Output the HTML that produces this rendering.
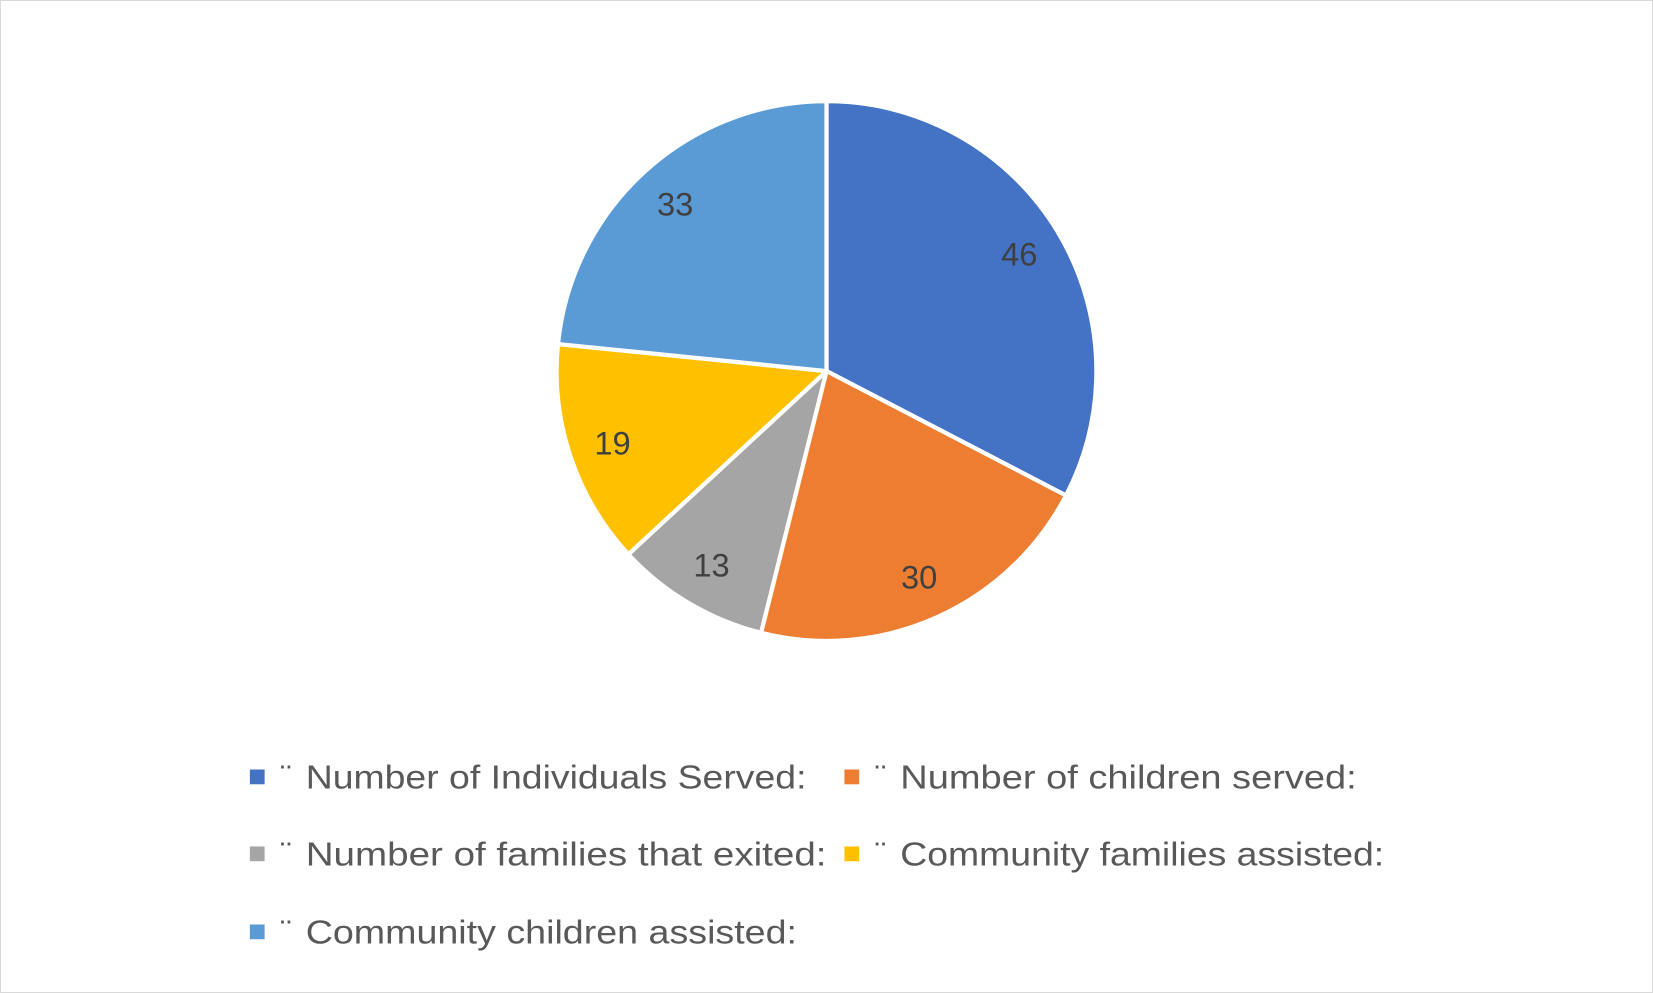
<!DOCTYPE html>
<html><head><meta charset="utf-8"><style>
html,body{margin:0;padding:0;background:#fff;}
svg{display:block;}
</style></head><body>
<svg id="chart" width="1653" height="993" viewBox="0 0 1568 942" preserveAspectRatio="none" xmlns="http://www.w3.org/2000/svg" font-family="'Liberation Sans', sans-serif">
<rect x="0.5" y="0.5" width="1567" height="941" fill="#fff" stroke="#d9d9d9"/>
<g id="slices"></g>
<g id="labels"></g>
<g id="legend"></g>
</svg>
<script>
const categories = ["Number of Individuals Served:", "Number of children served:", "Number of families that exited:", "Community families assisted:", "Community children assisted:"];
const values = [46, 30, 13, 19, 33];
const colors = ["#4472c4", "#ed7d31", "#a5a5a5", "#ffc000", "#5b9bd5"];
const legendWidths = [475, 433, 494, 459, 466];
const NS = "http://www.w3.org/2000/svg";
const cx = 784, cy = 352, r = 256;
const total = values.reduce((a, b) => a + b, 0);
const sg = document.getElementById('slices'), lg = document.getElementById('labels'), leg = document.getElementById('legend');
function pt(a, rad) { return [cx + rad * Math.sin(a), cy - rad * Math.cos(a)]; }
let acc = 0;
values.forEach((v, i) => {
  const a0 = acc / total * 2 * Math.PI; acc += v;
  const a1 = acc / total * 2 * Math.PI;
  const p0 = pt(a0, r), p1 = pt(a1, r);
  const large = (a1 - a0) > Math.PI ? 1 : 0;
  const path = document.createElementNS(NS, 'path');
  path.setAttribute('d', `M${cx},${cy} L${p0[0]},${p0[1]} A${r},${r} 0 ${large} 1 ${p1[0]},${p1[1]} Z`);
  path.setAttribute('fill', colors[i]);
  path.setAttribute('stroke', '#fff');
  path.setAttribute('stroke-width', '4');
  path.setAttribute('stroke-linejoin', 'round');
  
  
  sg.appendChild(path);
  const am = (a0 + a1) / 2, lp = pt(am, 214);
  const t = document.createElementNS(NS, 'text');
  t.setAttribute('x', lp[0]); t.setAttribute('y', lp[1] + 11);
  t.setAttribute('text-anchor', 'middle'); t.setAttribute('font-size', '31');
  t.setAttribute('fill', '#404040');
  t.textContent = v;
  
  
  lg.appendChild(t);
});
const legPos = [[244, 737], [808, 737], [244, 810], [808, 810], [244, 884]];
categories.forEach((c, i) => {
  const g = document.createElementNS(NS, 'g');
  
  
  const [x, y] = legPos[i];
  const s = document.createElementNS(NS, 'rect');
  s.setAttribute('x', x - 7); s.setAttribute('y', y - 7); s.setAttribute('width', 14); s.setAttribute('height', 14);
  s.setAttribute('fill', colors[i]);
  
  
  g.appendChild(s);
  const d = document.createElementNS(NS, 'text');
  d.setAttribute('x', x + 22); d.setAttribute('y', y + 11);
  d.setAttribute('font-size', '32'); d.setAttribute('fill', '#595959');
  d.textContent = "\u00a8";
  
  
  g.appendChild(d);
  const t = document.createElementNS(NS, 'text');
  t.setAttribute('x', x + 46); t.setAttribute('y', y + 11);
  t.setAttribute('font-size', '32'); t.setAttribute('fill', '#595959');
  t.setAttribute('textLength', legendWidths[i]);
  t.setAttribute('lengthAdjust', 'spacingAndGlyphs');
  t.textContent = c;
  
  
  g.appendChild(t);
  leg.appendChild(g);
});
</script>
</body></html>
